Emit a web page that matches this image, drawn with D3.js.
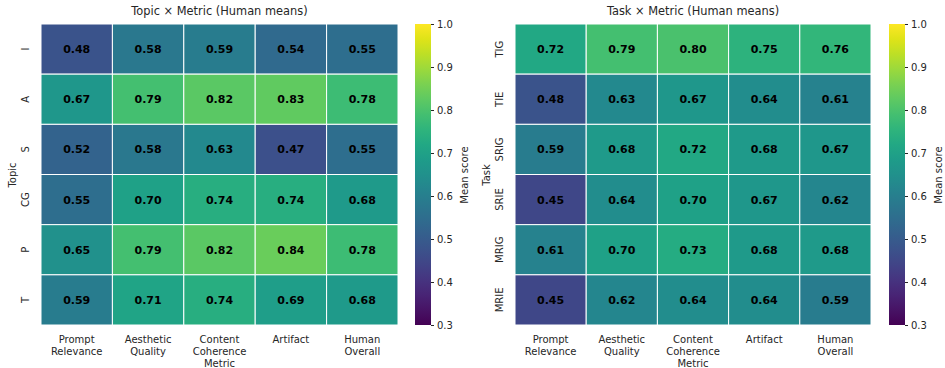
<!DOCTYPE html>
<html><head><meta charset="utf-8">
<script src="https://cdn.jsdelivr.net/npm/d3@7"></script>
<style>body{margin:0;background:#fff;} text{font-family:"DejaVu Sans",sans-serif;}</style>
</head><body><svg id="c" width="945" height="368"></svg>
<script>
const metrics = ["Prompt\nRelevance","Aesthetic\nQuality","Content\nCoherence","Artifact","Human\nOverall"];
const topics = ["I","A","S","CG","P","T"];
const topicValues = [
  [0.48,0.58,0.59,0.54,0.55],
  [0.67,0.79,0.82,0.83,0.78],
  [0.52,0.58,0.63,0.47,0.55],
  [0.55,0.70,0.74,0.74,0.68],
  [0.65,0.79,0.82,0.84,0.78],
  [0.59,0.71,0.74,0.69,0.68]
];
const tasks = ["TIG","TIE","SRIG","SRIE","MRIG","MRIE"];
const taskValues = [
  [0.72,0.79,0.80,0.75,0.76],
  [0.48,0.63,0.67,0.64,0.61],
  [0.59,0.68,0.72,0.68,0.67],
  [0.45,0.64,0.70,0.67,0.62],
  [0.61,0.70,0.73,0.68,0.68],
  [0.45,0.62,0.64,0.64,0.59]
];
const cbTicks = [0.3,0.4,0.5,0.6,0.7,0.8,0.9,1.0];

const svg = d3.select("#c");
const color = d3.scaleSequential(d3.interpolateViridis).domain([0.3,1.0]);
const txt = "#262626";

function panel(opt){
  const g = svg.append("g");
  const x = d3.scaleBand().domain(d3.range(metrics.length)).range([opt.x0, opt.x1]);
  const y = d3.scaleBand().domain(opt.rows).range([24, 325]);
  opt.values.forEach((row,i)=>row.forEach((v,j)=>{
    g.append("rect").attr("x",x(j)).attr("y",y(opt.rows[i]))
      .attr("width",x.bandwidth()).attr("height",y.bandwidth())
      .attr("fill",color(v)).attr("stroke","#fff").attr("stroke-width",1);
    g.append("text").attr("x",x(j)+x.bandwidth()/2).attr("y",y(opt.rows[i])+y.bandwidth()/2)
      .attr("dy","0.36em").attr("text-anchor","middle").attr("font-size",11)
      .attr("font-weight","bold").attr("fill","#000").text(v.toFixed(2));
  }));
  // title
  g.append("text").attr("x",(opt.x0+opt.x1)/2).attr("y",15).attr("text-anchor","middle")
    .attr("font-size",11.4).attr("fill",txt).text(opt.title);
  // x labels
  metrics.forEach((m,j)=>{
    const t = g.append("text").attr("text-anchor","middle").attr("font-size",10).attr("fill",txt);
    m.split("\n").forEach((line,k)=>{
      t.append("tspan").attr("x",x(j)+x.bandwidth()/2).attr("y",343+k*12).text(line);
    });
  });
  g.append("text").attr("x",(opt.x0+opt.x1)/2).attr("y",367).attr("text-anchor","middle")
    .attr("font-size",10).attr("fill",txt).text("Metric");
  // y labels
  opt.rows.forEach(r=>{
    const cy = y(r)+y.bandwidth()/2;
    g.append("text").attr("transform",`translate(${opt.x0-12},${cy}) rotate(-90)`)
      .attr("text-anchor","middle").attr("font-size",10).attr("fill",txt).text(r);
  });
  g.append("text").attr("transform",`translate(${opt.x0-25},175) rotate(-90)`)
    .attr("text-anchor","middle").attr("font-size",10).attr("fill",txt).text(opt.ylab);
  // colorbar
  const cbx = opt.cbx, cbw = 16;
  const cy = d3.scaleLinear().domain([0.3,1.0]).range([325,24]);
  const gid = "grad"+opt.id;
  const grad = svg.append("defs").append("linearGradient").attr("id",gid)
    .attr("x1",0).attr("y1",1).attr("x2",0).attr("y2",0);
  d3.range(0,1.0001,0.05).forEach(s=>grad.append("stop").attr("offset",s).attr("stop-color",d3.interpolateViridis(s)));
  g.append("rect").attr("x",cbx).attr("y",24).attr("width",cbw).attr("height",301).attr("fill",`url(#${gid})`);
  const ax = g.append("g").attr("transform",`translate(${cbx+cbw},0)`)
    .call(d3.axisRight(cy).tickValues(cbTicks).tickFormat(d3.format(".1f")).tickSize(3).tickPadding(3));
  ax.select(".domain").remove();
  ax.selectAll("line").attr("stroke",txt);
  ax.selectAll("text").attr("font-size",10).attr("fill",txt).attr("font-family","DejaVu Sans");
  g.append("text").attr("transform",`translate(${cbx+53},175) rotate(-90)`)
    .attr("text-anchor","middle").attr("font-size",10).attr("fill",txt).text("Mean score");
}

panel({id:1,x0:41,x1:398,rows:topics,values:topicValues,title:"Topic × Metric (Human means)",ylab:"Topic",cbx:415});
panel({id:2,x0:515,x1:871,rows:tasks,values:taskValues,title:"Task × Metric (Human means)",ylab:"Task",cbx:889});
</script></body></html>
